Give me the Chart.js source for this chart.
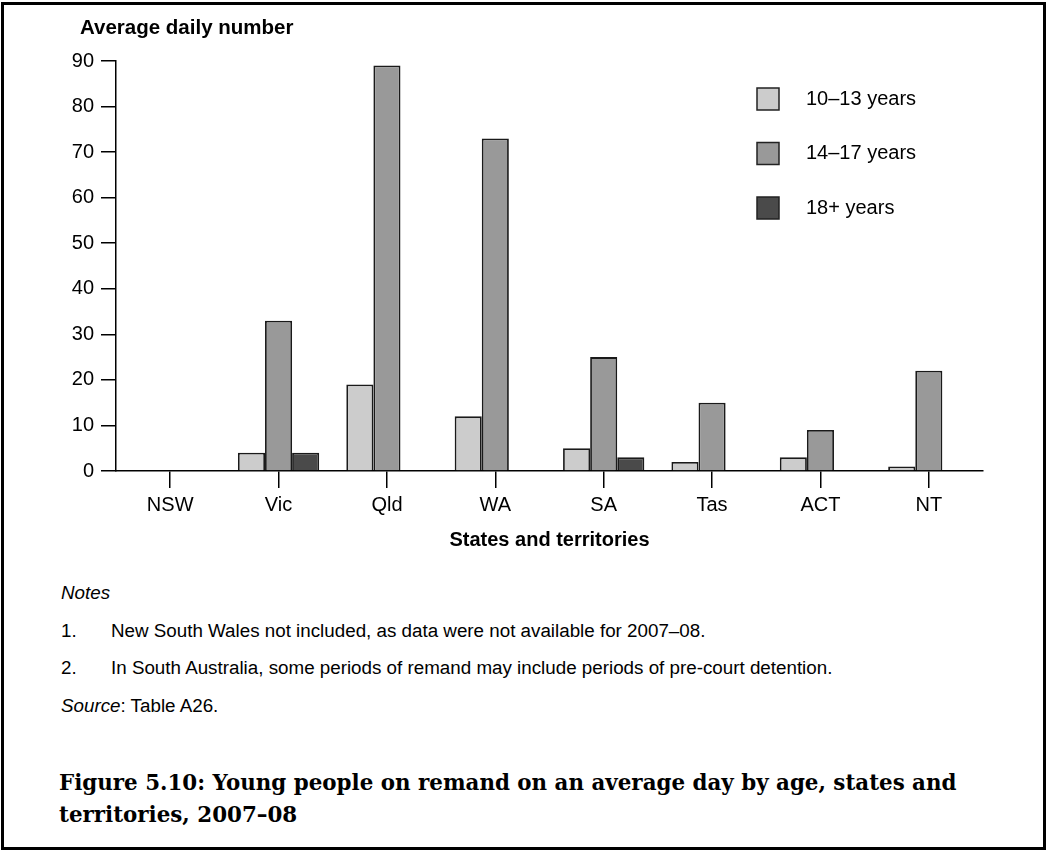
<!DOCTYPE html>
<html>
<head>
<meta charset="utf-8">
<script src="https://cdn.jsdelivr.net/npm/chart.js@4.4.0/dist/chart.umd.min.js"></script>
<style>
  body { margin: 0; background: #fff; width: 1046px; height: 850px; position: relative; overflow: hidden; font-family: Arial, "Liberation Sans", sans-serif; color: #000; }
  #frame { position: absolute; left: 1px; top: 2px; width: 1045px; height: 848px; box-sizing: border-box; border: 3px solid #000; pointer-events: none; }
  #chart { position: absolute; left: 0; top: 0; }
  .note { position: absolute; left: 61px; font-size: 18.8px; line-height: 20px; white-space: nowrap; }
  .note .num { display: inline-block; width: 50px; }
  #caption { position: absolute; left: 59px; top: 767px; font-family: "DejaVu Serif", serif; font-weight: bold; font-size: 21.4px; line-height: 32px; }
</style>
</head>
<body>
<canvas id="chart" width="1046" height="560"></canvas>
<div class="note" style="top:583px"><i>Notes</i></div>
<div class="note" style="top:621px"><span class="num">1.</span>New South Wales not included, as data were not available for 2007–08.</div>
<div class="note" style="top:658px"><span class="num">2.</span>In South Australia, some periods of remand may include periods of pre-court detention.</div>
<div class="note" style="top:696px"><i>Source</i>: Table A26.</div>
<div id="caption">Figure 5.10: Young people on remand on an average day by age, states and<br>territories, 2007–08</div>
<div id="frame"></div>
<script>
// States and territories
var categories = ['NSW', 'Vic', 'Qld', 'WA', 'SA', 'Tas', 'ACT', 'NT'];
// average daily number on remand (NSW not available)
var age10to13 = [null, 4, 19, 12, 5, 2, 3, 1];
var age14to17 = [null, 33, 89, 73, 25, 15, 9, 22];
var age18plus = [null, 4, 0, 0, 3, 0, 0, 0];
var seriesLabels = ['10–13 years', '14–17 years', '18+ years'];
var yTicks = [0, 10, 20, 30, 40, 50, 60, 70, 80, 90];
var yTitle = 'Average daily number';

// y title sits above the axis, plus the boxed legend on the right
var annotations = {
  id: 'annotations',
  afterDraw: function (chart) {
    var ctx = chart.ctx;
    ctx.save();
    ctx.fillStyle = '#000';
    ctx.textBaseline = 'middle';
    ctx.font = 'bold 20.5px Arial';
    ctx.fillText(yTitle, 80, 28);
    ctx.font = '20px Arial';
    chart.data.datasets.forEach(function (ds, i) {
      var y = 88 + i * 54.5;
      ctx.fillStyle = ds.backgroundColor;
      ctx.fillRect(757, y, 22, 22);
      ctx.lineWidth = 1.5;
      ctx.strokeStyle = '#222';
      ctx.strokeRect(757, y, 22, 22);
      ctx.fillStyle = '#000';
      ctx.fillText(ds.label, 806, y + 11);
    });
    ctx.restore();
  }
};

var ctx = document.getElementById('chart').getContext('2d');
new Chart(ctx, {
  type: 'bar',
  data: {
    labels: categories,
    datasets: [
      { label: seriesLabels[0], data: age10to13, backgroundColor: '#cccccc' },
      { label: seriesLabels[1], data: age14to17, backgroundColor: '#999999' },
      { label: seriesLabels[2], data: age18plus, backgroundColor: '#4a4a4a' }
    ]
  },
  options: {
    responsive: false,
    animation: false,
    layout: { padding: { left: 56, right: 63, top: 61, bottom: 8 } },
    datasets: {
      bar: { categoryPercentage: 0.75, barPercentage: 1, borderColor: '#1a1a1a', borderWidth: 1.8 }
    },
    plugins: {
      legend: { display: false },
      tooltip: { enabled: false },
      title: { display: false }
    },
    scales: {
      x: {
        grid: { offset: false, drawOnChartArea: false, tickLength: 17, color: '#000', lineWidth: 1.5 },
        border: { color: '#000', width: 1.5 },
        ticks: { color: '#000', padding: 5, font: { family: 'Arial', size: 20 } },
        title: {
          display: true,
          text: 'States and territories',
          color: '#000',
          font: { family: 'Arial', size: 20, weight: 'bold' },
          padding: { top: 0, bottom: 0 }
        },
        afterFit: function (scale) { scale.height = 81; }
      },
      y: {
        min: 0,
        max: 90,
        afterBuildTicks: function (scale) {
          scale.ticks = yTicks.map(function (v) { return { value: v }; });
        },
        grid: { drawOnChartArea: false, tickLength: 15, color: '#000', lineWidth: 1.5 },
        border: { color: '#000', width: 1.5 },
        ticks: { color: '#000', padding: 7, font: { family: 'Arial', size: 20 } },
        afterFit: function (scale) { scale.width = 60; }
      }
    }
  },
  plugins: [annotations]
});
</script>
</body>
</html>
